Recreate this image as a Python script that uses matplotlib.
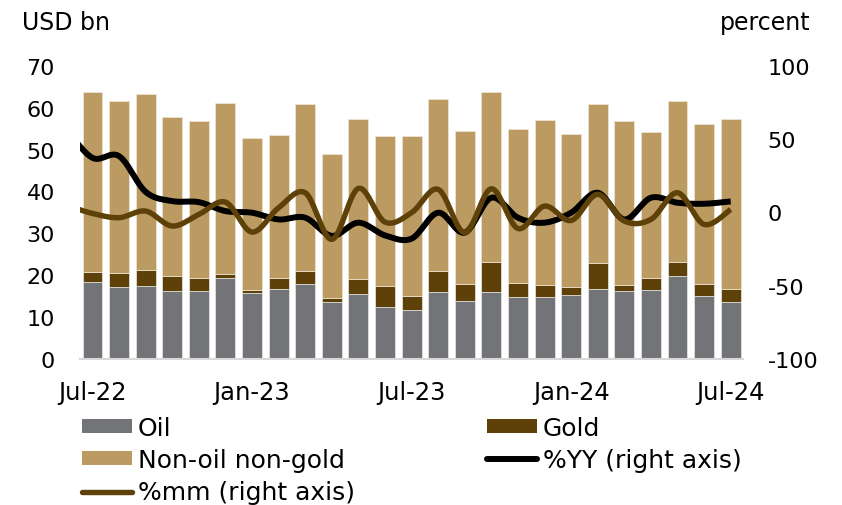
import numpy as np
import matplotlib
matplotlib.use("Agg")
import matplotlib.pyplot as plt
from matplotlib.patches import Patch
from matplotlib.lines import Line2D

plt.rcParams['font.family'] = ['DejaVu Sans']
plt.rcParams['axes.unicode_minus'] = False

months = ["Jul-22", "Aug-22", "Sep-22", "Oct-22", "Nov-22", "Dec-22",
          "Jan-23", "Feb-23", "Mar-23", "Apr-23", "May-23", "Jun-23",
          "Jul-23", "Aug-23", "Sep-23", "Oct-23", "Nov-23", "Dec-23",
          "Jan-24", "Feb-24", "Mar-24", "Apr-24", "May-24", "Jun-24",
          "Jul-24"]

# USD bn
oil = [18.4, 17.1, 17.4, 16.3, 16.2, 19.3, 15.7, 16.8, 17.9, 13.6, 15.5, 12.4,
       11.7, 16.1, 13.8, 16.0, 14.8, 14.7, 15.4, 16.7, 16.2, 16.4, 19.8, 15.0,
       13.7]
gold = [2.4, 3.5, 3.9, 3.5, 3.1, 0.9, 0.8, 2.5, 3.1, 0.9, 3.5, 5.0,
        3.3, 4.9, 4.1, 7.2, 3.3, 3.0, 1.7, 6.2, 1.5, 3.0, 3.4, 2.9,
        3.0]
non_oil_non_gold = [42.9, 41.1, 42.0, 38.0, 37.5, 40.9, 36.2, 34.2, 39.9, 34.5,
                    38.4, 35.9, 38.3, 41.1, 36.5, 40.5, 36.9, 39.4, 36.6, 38.0,
                    39.1, 34.8, 38.5, 38.1, 40.6]

# percent; line series start one month earlier (Jun-22)
yoy = [57.0, 37.2, 38.4, 14.0, 7.7, 7.0, 0.9, -0.2, -4.8, -3.6, -16.0, -7.0,
       -15.7, -17.9, -0.2, -13.8, 10.0, -3.6, -7.0, -0.2, 13.4, -4.8, 10.0,
       6.6, 5.9, 7.5]
mom = [5.0, -0.7, -3.6, 0.9, -9.3, -1.4, 7.0, -13.4, 3.2, 13.4, -18.4, 16.4,
       -6.6, -0.2, 15.7, -13.8, 16.1, -11.0, 4.3, -5.5, 12.3, -5.9, -4.8,
       13.4, -8.2, 2.0]

tick_labels = ["Jul-22", "Jan-23", "Jul-23", "Jan-24", "Jul-24"]

c_oil = "#737478"
c_gold = "#5e4108"
c_non = "#bc9b62"
c_yoy = "#000000"
c_mom = "#5e4108"


def catmull_rom(x, y, n=30):
    x = np.asarray(x, float)
    y = np.asarray(y, float)
    px = np.concatenate([[x[0]], x, [x[-1]]])
    py = np.concatenate([[y[0]], y, [y[-1]]])
    xs, ys = [], []
    t = np.linspace(0, 1, n)
    for i in range(1, len(px) - 2):
        p0x, p1x, p2x, p3x = px[i - 1], px[i], px[i + 1], px[i + 2]
        p0y, p1y, p2y, p3y = py[i - 1], py[i], py[i + 1], py[i + 2]
        c1x, c1y = p1x + (p2x - p0x) / 6, p1y + (p2y - p0y) / 6
        c2x, c2y = p2x - (p3x - p1x) / 6, p2y - (p3y - p1y) / 6
        bx = ((1 - t) ** 3 * p1x + 3 * (1 - t) ** 2 * t * c1x
              + 3 * (1 - t) * t ** 2 * c2x + t ** 3 * p2x)
        by = ((1 - t) ** 3 * p1y + 3 * (1 - t) ** 2 * t * c1y
              + 3 * (1 - t) * t ** 2 * c2y + t ** 3 * p2y)
        xs.append(bx)
        ys.append(by)
    return np.concatenate(xs), np.concatenate(ys)


fig = plt.figure(figsize=(8.42, 5.06), dpi=100)
ax = fig.add_axes([0.095, 0.2885, 0.787, 0.5795])

x = np.arange(len(months))
w = 0.75
oil_a = np.array(oil)
gold_a = np.array(gold)
ax.bar(x, oil, w, color=c_oil, edgecolor="#e9e9e9", linewidth=0.5, zorder=2)
ax.bar(x, gold, w, bottom=oil_a, color=c_gold, edgecolor="#e9e9e9",
       linewidth=0.5, zorder=2)
ax.bar(x, non_oil_non_gold, w, bottom=oil_a + gold_a, color=c_non,
       edgecolor="#efe6d6", linewidth=0.5, zorder=2)

ax.set_xlim(-0.47, len(months) - 0.55)
ax.set_ylim(0, 70)
ax.set_yticks(np.arange(0, 71, 10))
tick_pos = [months.index(m) for m in tick_labels]
ax.set_xticks(tick_pos)
ax.set_xticklabels(tick_labels)
ax.tick_params(axis="y", length=0, labelsize=16, pad=18)
ax.tick_params(axis="x", length=0, labelsize=17.5, pad=15)
for s in ["top", "left", "right"]:
    ax.spines[s].set_visible(False)
ax.spines["bottom"].set_color("#d9d9d9")
ax.spines["bottom"].set_linewidth(1.5)

ax2 = ax.twinx()
ax2.set_ylim(-100, 100)
ax2.set_yticks([-100, -50, 0, 50, 100])
ax2.tick_params(axis="y", length=0, labelsize=16, pad=18)
for s in ["top", "left", "right", "bottom"]:
    ax2.spines[s].set_visible(False)

lx = np.arange(-1, len(months))
sx, sy = catmull_rom(lx, yoy)
ax2.plot(sx, sy, color=c_yoy, lw=4.3, solid_capstyle="butt", zorder=3)
sx, sy = catmull_rom(lx, mom)
ax2.plot(sx, sy, color=c_mom, lw=3.9, solid_capstyle="butt", zorder=4)
ax2.set_xlim(ax.get_xlim())

fig.text(0.026, 0.955, "USD bn", fontsize=17, va="center", ha="left")
fig.text(0.963, 0.955, "percent", fontsize=17, va="center", ha="right")

h_oil = Patch(facecolor=c_oil)
h_gold = Patch(facecolor=c_gold)
h_non = Patch(facecolor=c_non)
h_yoy = Line2D([], [], color=c_yoy, lw=4.3, solid_capstyle="round")
h_mom = Line2D([], [], color=c_mom, lw=3.9, solid_capstyle="round")

common = dict(frameon=False, fontsize=18, handlelength=2.0, handleheight=0.48,
              handletextpad=0.25, labelspacing=0.33, borderaxespad=0,
              borderpad=0, loc="upper left")
leg1 = fig.legend([h_oil, h_non, h_mom],
                  ["Oil", "Non-oil non-gold", "%mm (right axis)"],
                  bbox_to_anchor=(0.097, 0.176), **common)
leg2 = fig.legend([h_gold, h_yoy], ["Gold", "%YY (right axis)"],
                  bbox_to_anchor=(0.578, 0.176), **common)

fig.savefig("out.png", dpi=100)
